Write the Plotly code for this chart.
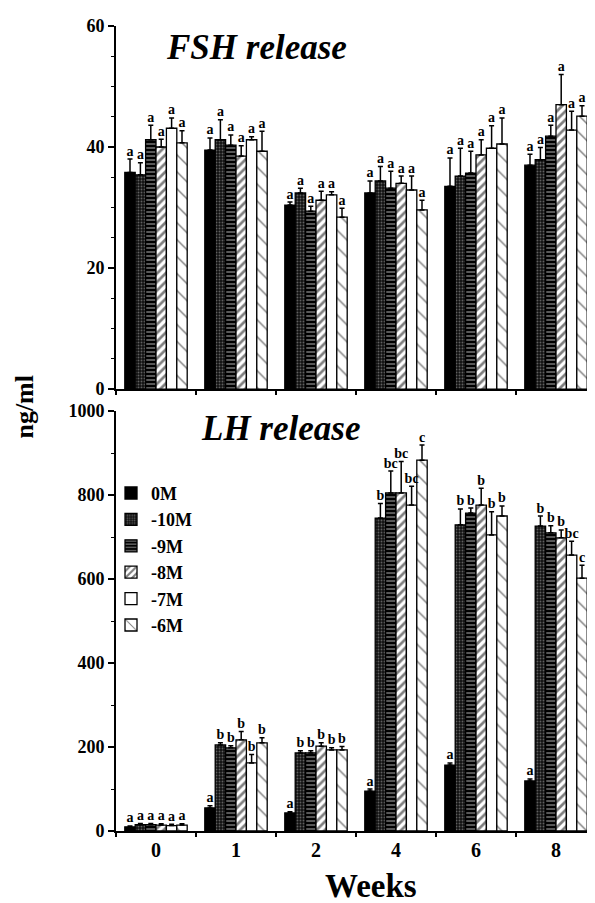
import plotly.graph_objects as go

weeks = ["0", "1", "2", "4", "6", "8"]
series = ["0M", "-10M", "-9M", "-8M", "-7M", "-6M"]

fsh_0M = [35.8, 39.5, 30.4, 32.4, 33.5, 37.0]
fsh_10M = [35.4, 41.2, 32.4, 34.4, 35.2, 37.9]
fsh_9M = [41.2, 40.3, 29.4, 33.2, 35.7, 41.8]
fsh_8M = [40.0, 38.5, 31.2, 34.0, 38.7, 47.0]
fsh_7M = [43.1, 41.2, 32.1, 32.9, 39.8, 42.8]
fsh_6M = [40.7, 39.3, 28.4, 29.6, 40.5, 45.1]

fsh_err_0M = [2.2, 2.0, 0.5, 2.0, 4.7, 1.8]
fsh_err_10M = [2.0, 3.3, 0.8, 2.4, 4.6, 2.0]
fsh_err_9M = [2.4, 1.7, 0.8, 2.8, 3.6, 1.8]
fsh_err_8M = [1.3, 1.7, 1.5, 1.2, 2.5, 5.0]
fsh_err_7M = [1.7, 0.5, 0.5, 2.3, 3.7, 3.1]
fsh_err_6M = [2.0, 3.3, 1.5, 1.6, 4.3, 1.7]

lh_0M = [10, 55, 43, 95, 157, 119]
lh_10M = [15, 205, 186, 745, 729, 726]
lh_9M = [15, 198, 186, 805, 757, 710]
lh_8M = [14, 217, 202, 805, 776, 698]
lh_7M = [13, 162, 193, 776, 705, 657]
lh_6M = [14, 210, 193, 883, 750, 602]

lh_err_0M = [2, 5, 3, 5, 5, 5]
lh_err_10M = [3, 5, 5, 35, 38, 24]
lh_err_9M = [3, 5, 5, 52, 12, 17]
lh_err_8M = [3, 20, 8, 75, 40, 19]
lh_err_7M = [3, 20, 5, 45, 55, 33]
lh_err_6M = [3, 12, 8, 36, 24, 31]

fsh_letters = [["a"] * 6 for _ in range(6)]
lh_let_0M = ["a", "a", "a", "a", "a", "a"]
lh_let_10M = ["a", "b", "b", "b", "b", "b"]
lh_let_9M = ["a", "b", "b", "bc", "b", "b"]
lh_let_8M = ["a", "b", "b", "bc", "b", "b"]
lh_let_7M = ["a", "b", "b", "bc", "b", "bc"]
lh_let_6M = ["a", "b", "b", "c", "b", "c"]

fsh_vals = [fsh_0M, fsh_10M, fsh_9M, fsh_8M, fsh_7M, fsh_6M]
fsh_errs = [fsh_err_0M, fsh_err_10M, fsh_err_9M, fsh_err_8M, fsh_err_7M, fsh_err_6M]
lh_vals = [lh_0M, lh_10M, lh_9M, lh_8M, lh_7M, lh_6M]
lh_errs = [lh_err_0M, lh_err_10M, lh_err_9M, lh_err_8M, lh_err_7M, lh_err_6M]
lh_letters = [lh_let_0M, lh_let_10M, lh_let_9M, lh_let_8M, lh_let_7M, lh_let_6M]

SERIF = "Liberation Serif"
patterns = [
    dict(shape="", bgcolor="black", fgcolor="black"),
    dict(shape=".", bgcolor="#111111", fgcolor="#b0b0b0", size=3, solidity=0.3),
    dict(shape="-", bgcolor="black", fgcolor="white", size=4, solidity=0.35),
    dict(shape="/", bgcolor="white", fgcolor="black", size=6, solidity=0.45),
    dict(shape="", bgcolor="white", fgcolor="white"),
    dict(shape="\\", bgcolor="white", fgcolor="black", size=12, solidity=0.12),
]
fills = ["black", "#111111", "black", "white", "white", "white"]

bargap = 0.22
n = len(series)
bw = (1 - bargap) / n
xs = list(range(len(weeks)))

fig = go.Figure()
for panel, (vals, errs, letters, xa, ya) in enumerate([
    (fsh_vals, fsh_errs, fsh_letters, "x", "y"),
    (lh_vals, lh_errs, lh_letters, "x2", "y2"),
]):
    for i, name in enumerate(series):
        fig.add_trace(go.Bar(
            x=xs, y=vals[i], name=name, xaxis=xa, yaxis=ya,
            legendgroup=name, showlegend=(panel == 1),
            marker=dict(color=fills[i], pattern=patterns[i],
                        line=dict(color="black", width=1.3)),
            error_y=dict(type="data", symmetric=False, array=errs[i],
                         arrayminus=[0] * len(errs[i]), color="black",
                         thickness=1.5, width=2.5),
        ))
    for i, name in enumerate(series):
        off = (i - (n - 1) / 2) * bw
        fig.add_trace(go.Scatter(
            x=[x + off for x in xs],
            y=[v + e for v, e in zip(vals[i], errs[i])],
            text=letters[i], mode="text", textposition="top center",
            textfont=dict(family=SERIF, size=14, color="black", weight="bold"),
            xaxis=xa, yaxis=ya, showlegend=False, hoverinfo="skip",
        ))

axis_common = dict(showline=True, linecolor="black", linewidth=1.8,
                   showgrid=False, zeroline=False, mirror=False)
xcommon = dict(axis_common, range=[-0.5, len(weeks) - 0.5], tickvals=xs,
               ticktext=weeks, ticks="",
               minor=dict(tick0=-0.5, dtick=1, ticks="outside", ticklen=4,
                          tickwidth=1.5, tickcolor="black"),
               tickfont=dict(family=SERIF, size=20, color="black", weight="bold"))
ycommon = dict(axis_common, ticks="outside", ticklen=6, tickwidth=1.5,
               tickcolor="black",
               tickfont=dict(family=SERIF, size=18, color="black", weight="bold"))

fig.update_layout(
    width=595, height=903,
    margin=dict(l=108, r=7, t=18, b=80),
    plot_bgcolor="white", paper_bgcolor="white",
    barmode="group", bargap=bargap, bargroupgap=0,
    xaxis=dict(xcommon, anchor="y", domain=[0, 1], showticklabels=False),
    yaxis=dict(ycommon, anchor="x", domain=[0.549, 1], range=[0, 60],
               tickvals=[0, 20, 40, 60],
               minor=dict(dtick=5, ticks="outside", ticklen=3, tickwidth=1.3,
                          tickcolor="black")),
    xaxis2=dict(xcommon, anchor="y2", domain=[0, 1]),
    yaxis2=dict(ycommon, anchor="x2", domain=[0, 0.5217], range=[0, 1000],
                tickvals=[0, 200, 400, 600, 800, 1000],
                minor=dict(dtick=100, ticks="outside", ticklen=3, tickwidth=1.3,
                           tickcolor="black")),
    legend=dict(x=-0.0104, y=0.4425, xanchor="left", yanchor="top",
                font=dict(family=SERIF, size=18, color="black", weight="bold"),
                bgcolor="rgba(0,0,0,0)", tracegroupgap=0),
    showlegend=True,
    annotations=[
        dict(text="<b><i>FSH release</i></b>", x=0.292, y=0.973, xref="paper",
             yref="paper", showarrow=False, xanchor="center", yanchor="middle",
             font=dict(family=SERIF, size=35, color="black")),
        dict(text="<b><i>LH release</i></b>", x=0.342, y=0.4994, xref="paper",
             yref="paper", showarrow=False, xanchor="center", yanchor="middle",
             font=dict(family=SERIF, size=35, color="black")),
        dict(text="<b>ng/ml</b>", x=-0.19, y=0.527, xref="paper", yref="paper",
             showarrow=False, textangle=-90, xanchor="center", yanchor="middle",
             font=dict(family=SERIF, size=26, color="black")),
        dict(text="<b>Weeks</b>", x=0.531, y=-0.0683, xref="paper", yref="paper",
             showarrow=False, xanchor="center", yanchor="middle",
             font=dict(family=SERIF, size=33, color="black")),
    ],
)

fig.write_html("out.html")
